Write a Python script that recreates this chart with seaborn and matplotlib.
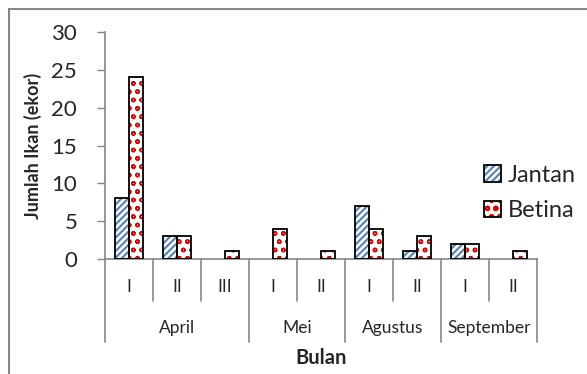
import numpy as np
import pandas as pd
import matplotlib
matplotlib.use("Agg")
import matplotlib.pyplot as plt
import matplotlib.transforms as mtransforms
from matplotlib.patches import Rectangle, Patch
from matplotlib.legend_handler import HandlerTuple
import seaborn as sns

# data
bulan = ["April", "Mei", "Agustus", "September"]
minggu_per_bulan = [3, 2, 2, 2]
minggu = ["I", "II", "III", "I", "II", "I", "II", "I", "II"]
jantan = [8, 3, 0, 0, 0, 7, 1, 2, 0]
betina = [24, 3, 1, 4, 1, 4, 3, 2, 1]

bulan_per_kat = [b for b, n in zip(bulan, minggu_per_bulan) for _ in range(n)]
kunci = [f"{b} {m}" for b, m in zip(bulan_per_kat, minggu)]

df = pd.DataFrame({
    "kunci": kunci * 2,
    "jumlah": jantan + betina,
    "jenis": ["Jantan"] * len(kunci) + ["Betina"] * len(kunci),
})

sns.set_style("white")
plt.rcParams["font.family"] = ["Lato", "DejaVu Sans"]
plt.rcParams["hatch.linewidth"] = 1.5

W, H = 587, 374
fig = plt.figure(figsize=(W / 100, H / 100), dpi=100)
ax = fig.add_axes([105 / W, 1 - 259 / H, (537 - 105) / W, (259 - 32) / H])

gris = "#868686"
warna = {"Jantan": "#4F81BD", "Betina": "#E00000"}
pola = {"Jantan": "/////", "Betina": "oo"}
tebal = {"Jantan": 1.5, "Betina": 1.0}


def isi_pola(p, jenis):
    p.set_hatch(pola[jenis])
    p.set_edgecolor(warna[jenis])
    p.set_linewidth(0)
    if hasattr(p, "set_hatch_linewidth"):
        p.set_hatch_linewidth(tebal[jenis])


sns.barplot(data=df, x="kunci", y="jumlah", hue="jenis", order=kunci,
            hue_order=["Jantan", "Betina"], palette={"Jantan": "white", "Betina": "white"},
            width=0.58, ax=ax, legend=False, saturation=1)

for cont, jenis in zip(ax.containers, ["Jantan", "Betina"]):
    for p in cont.patches:
        isi_pola(p, jenis)
        if p.get_height() > 0:
            ax.add_patch(Rectangle(p.get_xy(), p.get_width(), p.get_height(),
                                   fill=False, edgecolor="black", linewidth=1.3, zorder=5))

ax.set_ylim(0, 30)
ax.set_yticks(range(0, 31, 5))
ax.set_xlim(-0.5, len(kunci) - 0.5)
ax.set_xlabel("")
ax.set_ylabel("Jumlah Ikan (ekor)", fontsize=13, fontweight="bold")
ax.yaxis.set_label_coords(-0.145, 0.5)
ax.tick_params(axis="y", labelsize=16, length=6, color=gris, width=1, pad=14, left=True)
ax.set_xticks([])
for s in ["top", "right"]:
    ax.spines[s].set_visible(False)
for s in ["left", "bottom"]:
    ax.spines[s].set_color(gris)
    ax.spines[s].set_linewidth(1.2)

# multi-level category axis
trans = mtransforms.blended_transform_factory(ax.transData, ax.transAxes)
px = 1 / (259 - 32)
batas = np.cumsum([0] + minggu_per_bulan) - 0.5
for i in range(len(kunci) + 1):
    xb = i - 0.5
    panjang = 83 if xb in batas else 42
    ax.plot([xb, xb], [0, -panjang * px], transform=trans, color=gris,
            linewidth=1.2, clip_on=False)
for i, m in enumerate(minggu):
    ax.text(i, -28 * px, m, transform=trans, ha="center", va="center", fontsize=12.5)
for b, a, c in zip(bulan, batas[:-1], batas[1:]):
    ax.text((a + c) / 2, -69 * px, b, transform=trans, ha="center", va="center", fontsize=12.5)
ax.text(0.5, -99 * px, "Bulan", transform=ax.transAxes, ha="center", va="center",
        fontsize=14.5, fontweight="bold")

handles = []
for jenis in ["Jantan", "Betina"]:
    h = Patch(facecolor="white")
    isi_pola(h, jenis)
    handles.append((h, Patch(fill=False, edgecolor="black", linewidth=1.3)))
fig.legend(handles, ["Jantan", "Betina"], handler_map={tuple: HandlerTuple(ndivide=1)},
           loc="center left", bbox_to_anchor=(484 / W, 1 - 193 / H), frameon=False,
           fontsize=17, handlelength=0.7, handleheight=0.7, handletextpad=0.3,
           labelspacing=0.6, borderpad=0, borderaxespad=0)

fig.patches.append(Rectangle((9 / W, -0.1), 1.2, 1.1 - 9 / H, transform=fig.transFigure,
                             fill=False, edgecolor=gris, linewidth=1.5))

fig.savefig("out.png", dpi=100)
